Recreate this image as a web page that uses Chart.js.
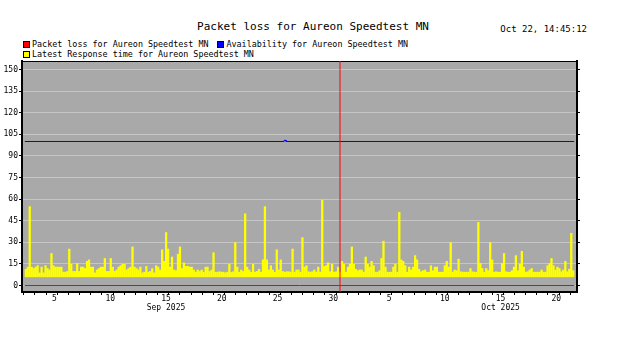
<!DOCTYPE html>
<html>
<head>
<meta charset="utf-8">
<title>Packet loss for Aureon Speedtest MN</title>
<script src="https://cdn.jsdelivr.net/npm/chart.js@4/dist/chart.umd.min.js"></script>
<style>
  html, body { margin: 0; padding: 0; background: #fff; }
  #wrap { position: relative; width: 626px; height: 353px; font-family: "DejaVu Sans Mono", monospace; color: #000; }
  #title { position: absolute; left: 0; width: 626px; top: 20px; text-align: center; font-size: 11px; }
  #stamp { position: absolute; right: 39px; top: 24px; font-size: 9px; }
  #legend { position: absolute; left: 23px; top: 39px; width: 420px; font-size: 8.4px; line-height: 10px; }
  .item { display: inline-block; margin-right: 9px; white-space: nowrap; }
  .box { display: inline-block; width: 5px; height: 5px; border: 1px solid #000; margin-right: 2px; vertical-align: -1px; }
  canvas { position: absolute; left: 0; top: 0; }
</style>
</head>
<body>
<div id="wrap">
  <div id="title">Packet loss for Aureon Speedtest MN</div>
  <div id="stamp">Oct 22, 14:45:12</div>
  <div id="legend"></div>
  <canvas id="chart" width="626" height="353"></canvas>
</div>
<script>
// x axis is in days since Sep 1 00:00
const xMin = 1.84;
const xMax = 51.1;
const yMin = -4.51;
const yMax = 155.9;
const yTicks = [0, 15, 30, 45, 60, 75, 90, 105, 120, 135, 150];
const monthNames = ['Sep 2025', 'Oct 2025'];
const monthStart = [0, 30];   // day offset where each month begins

// response time samples, one every ~4.25 h from xMin
const sampleStep = 0.1772;
const responseBase = 5.8;
const responseTimes = [
  11.5, 13, 55, 13, 12, 13, 14, 9, 13, 9,
  14, 12, 11, 22.5, 14, 13, 13, 13, 13, 9.5,
  9.5, 10, 25.5, 15, 10, 10, 15.5, 10, 13, 13,
  12, 17, 18, 13, 13, 9, 11, 12, 13, 13,
  19, 10, 10, 19, 13, 10, 11, 13, 14, 15,
  15, 11, 12, 13, 27, 13, 12, 11, 13, 9,
  9.5, 13.5, 9.5, 10, 12, 9, 14, 13, 11, 25,
  17, 37, 25.5, 13, 20, 11, 10.5, 22, 27, 12,
  16, 13.5, 13.5, 13, 13, 11, 9.5, 11, 10, 11,
  9.5, 13, 13, 10, 11, 23, 9.5, 9.5, 9.8, 9.5,
  9.5, 9, 9.5, 15, 9.3, 9.8, 30, 13, 9.5, 11,
  10, 50, 13, 11, 9.5, 15, 9.5, 10, 11.5, 9.5,
  18, 55, 18, 11, 14, 11, 9.5, 25, 11, 18,
  10, 9.5, 9.8, 9.8, 9.5, 25.5, 9.5, 11, 11,
  9.5, 33.5, 13, 14, 9.8, 9.5, 9.8, 11, 9.5, 13,
  9.5, 59.5, 13.5, 14, 16, 9.8, 15, 9.5, 9.8, 13,
  9.5, 17, 15, 9.5, 13, 15, 27, 15, 11.5, 10.5,
  11, 11, 9.5, 20, 15, 13, 17, 14, 9.5, 9.5,
  10.5, 19, 31, 13, 9.5, 9.5, 9.5, 13, 15, 9.5,
  51, 18, 17, 14, 9.5, 13, 11, 13, 21, 18,
  11.5, 9.8, 10.5, 11, 9.5, 9.5, 14, 10.5, 13,
  13, 9.5, 9.5, 9.5, 14, 17, 13, 30, 9.5, 11,
  10.5, 18.5, 9.8, 9.5, 9.5, 9.5, 9.5, 12, 9.8, 9.5,
  9.5, 44, 15.5, 12, 9.5, 12, 10.5, 30, 18, 9.5,
  9.8, 9.5, 9.5, 15.5, 22.5, 9.8, 9.5, 9.5, 10.5, 13,
  21, 10.5, 15, 24, 13, 9.5, 9.8, 11, 12, 9.5,
  9.5, 9.5, 9.5, 11, 9.5, 9.5, 14, 15.5, 19, 14,
  11, 13, 12, 9.8, 11, 17, 9.8, 11.5, 36.5, 10.5
];

// availability: flat 100 with one tiny blip
const availTimes = [xMin, 25.09, 25.09, 25.27, 25.27, xMax];
const availValues = [100, 100, 100.8, 100.8, 100, 100];

// packet loss: 0 throughout
const lossTimes = [xMin, xMax];
const lossValues = [0, 0];

// red marker at the start of October
const markerTime = 30.1;

const yellow = '#ffff00', red = '#ff0000', blue = '#0000ff';

const responseData = responseTimes.map((v, i) => ({ x: xMin + (i + 0.5) * sampleStep, y: [responseBase, v] }));

const plotBg = {
  id: 'plotBg',
  beforeDraw(chart) {
    const a = chart.chartArea, ctx = chart.ctx;
    ctx.save();
    ctx.fillStyle = '#a9a9a9';
    ctx.fillRect(a.left, a.top, a.right - a.left, a.bottom - a.top);
    ctx.restore();
  }
};

function dayLabel(v) {
  if (Math.abs(v % 1 - 0.5) > 0.01) return '';
  const m = v >= monthStart[1] ? 1 : 0;
  const dom = Math.floor(v - monthStart[m]) + 1;
  if (dom % 5 !== 0) return '';
  if (dom === 15) return [String(dom), monthNames[m]];
  return String(dom);
}

Chart.defaults.font.family = '"DejaVu Sans Mono", monospace';
Chart.defaults.font.size = 8;
Chart.defaults.color = '#000';

const chart = new Chart(document.getElementById('chart'), {
  type: 'bar',
  data: {
    datasets: [
      {
        type: 'line',
        label: 'Packet loss for Aureon Speedtest MN',
        data: lossTimes.map((t, i) => ({ x: t, y: lossValues[i] })),
        borderColor: red, backgroundColor: red,
        borderWidth: 1, pointRadius: 0, order: 1
      },
      {
        type: 'line',
        label: 'Availability for Aureon Speedtest MN',
        data: availTimes.map((t, i) => ({ x: t, y: availValues[i] })),
        borderColor: blue, backgroundColor: blue,
        borderWidth: 1, pointRadius: 0, order: 2
      },
      {
        type: 'bar',
        label: 'Latest Response time for Aureon Speedtest MN',
        data: responseData,
        backgroundColor: yellow, borderWidth: 0,
        barPercentage: 1.15, categoryPercentage: 1, grouped: false, order: 3
      },
      {
        type: 'line',
        label: 'marker',
        noLegend: true,
        data: [{ x: markerTime, y: yMin }, { x: markerTime, y: yMax }],
        borderColor: red, borderWidth: 1, pointRadius: 0, order: 0
      }
    ]
  },
  options: {
    responsive: false,
    animation: false,
    devicePixelRatio: 1,
    layout: { padding: { top: 61, left: 0, right: 0, bottom: 0 } },
    plugins: { legend: { display: false }, tooltip: { enabled: false } },
    scales: {
      x: {
        type: 'linear', position: 'bottom', min: xMin, max: xMax,
        afterFit: s => { s.height = 61; },
        afterBuildTicks: s => {
          const t = [];
          for (let d = Math.ceil(xMin); d < xMax; d++) {
            t.push({ value: d });
            if (d + 0.5 < xMax) t.push({ value: d + 0.5 });
          }
          s.ticks = t;
        },
        ticks: { autoSkip: false, maxRotation: 0, padding: -1, callback: v => dayLabel(v) },
        grid: {
          drawOnChartArea: false, tickLength: 3,
          tickColor: c => (c.tick && c.tick.value % 1 === 0) ? '#000' : 'rgba(0,0,0,0)'
        },
        border: { color: '#000', width: 2 }
      },
      xTop: {
        type: 'linear', position: 'top', min: xMin, max: xMax,
        afterFit: s => { s.height = 0; },
        ticks: { display: false },
        grid: { display: false },
        border: { color: '#000', width: 1 }
      },
      y: {
        type: 'linear', position: 'left', min: yMin, max: yMax,
        afterFit: s => { s.width = 22; },
        afterBuildTicks: s => { s.ticks = yTicks.map(v => ({ value: v })); },
        ticks: { padding: 1 },
        grid: { color: '#c6c6c6', lineWidth: 1, tickLength: 3, tickColor: '#000' },
        border: { color: '#000', width: 2 }
      },
      yRight: {
        type: 'linear', position: 'right', min: yMin, max: yMax,
        afterFit: s => { s.width = 49; },
        afterBuildTicks: s => { s.ticks = yTicks.map(v => ({ value: v })); },
        ticks: { display: false },
        grid: { drawOnChartArea: false, tickLength: 3, tickColor: '#000' },
        border: { color: '#000', width: 2 }
      }
    }
  },
  plugins: [plotBg]
});

// HTML legend built from the datasets
const legend = document.getElementById('legend');
chart.data.datasets.filter(d => !d.noLegend).forEach(d => {
  const item = document.createElement('span');
  item.className = 'item';
  const box = document.createElement('span');
  box.className = 'box';
  box.style.background = d.type === 'bar' ? d.backgroundColor : d.borderColor;
  item.appendChild(box);
  item.appendChild(document.createTextNode(d.label));
  legend.appendChild(item);
});
</script>
</body>
</html>
